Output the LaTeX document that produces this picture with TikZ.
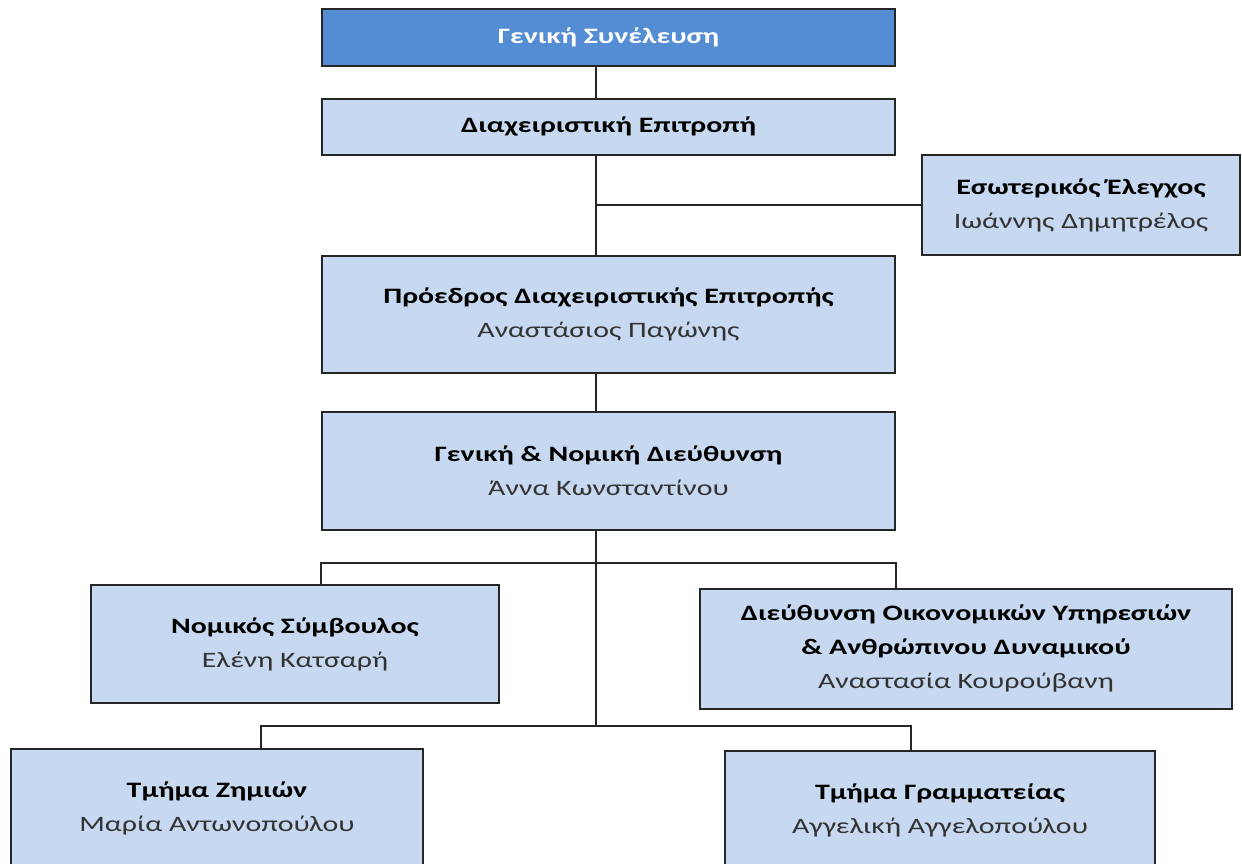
\documentclass[tikz,border=0pt]{standalone}
\usepackage{fontspec}
\setmainfont{Carlito}[FakeStretch=1.36]
\usetikzlibrary{positioning}
\definecolor{headbg}{RGB}{84,141,212}
\definecolor{unitbg}{RGB}{198,217,241}
\definecolor{framecol}{RGB}{38,38,38}
\definecolor{namecol}{RGB}{50,50,50}

\begin{document}
\begin{tikzpicture}[x=0.5pt, y=-0.5pt,
    box/.style={rectangle, draw=framecol, line width=1pt, fill=unitbg, align=center, inner sep=0pt, text=namecol, font=\fontsize{11}{17}\selectfont},
    headbox/.style={box, fill=headbg, text=white, font=\bfseries\fontsize{11}{17}\selectfont},
    link/.style={draw=framecol, line width=1pt}
]
\useasboundingbox (0,0) rectangle (1242,863);
\clip (0,0) rectangle (1242,863);

% Boxes
\node[headbox, minimum width=286.5pt, minimum height=28.5pt] (gs) at (608.5,37.5) {Γενική Συνέλευση};
\node[box, minimum width=286.5pt, minimum height=28pt] (de) at (608.5,126.5) {\textbf{\color{black}Διαχειριστική Επιτροπή}};
\node[box, minimum width=159pt, minimum height=50pt] (ee) at (1081,205) {\textbf{\color{black}Εσωτερικός Έλεγχος}\\Ιωάννης Δημητρέλος};
\node[box, minimum width=286.5pt, minimum height=58.5pt] (pde) at (608.5,314.5) {\textbf{\color{black}Πρόεδρος Διαχειριστικής Επιτροπής}\\Αναστάσιος Παγώνης};
\node[box, minimum width=286.5pt, minimum height=59pt] (gnd) at (608.5,471) {\textbf{\color{black}Γενική \& Νομική Διεύθυνση}\\Άννα Κωνσταντίνου};
\node[box, minimum width=204pt, minimum height=59pt] (ns) at (295,644) {\textbf{\color{black}Νομικός Σύμβουλος}\\Ελένη Κατσαρή};
\node[box, minimum width=266pt, minimum height=60pt] (doy) at (966,649) {\textbf{\color{black}Διεύθυνση Οικονομικών Υπηρεσιών}\\\textbf{\color{black}\& Ανθρώπινου Δυναμικού}\\Αναστασία Κουρούβανη};
\node[box, minimum width=206pt, minimum height=59pt] (tz) at (217,808) {\textbf{\color{black}Τμήμα Ζημιών}\\Μαρία Αντωνοπούλου};
\node[box, minimum width=215pt, minimum height=59pt] (tg) at (940,810) {\textbf{\color{black}Τμήμα Γραμματείας}\\Αγγελική Αγγελοπούλου};

% Connectors
\coordinate (trunk) at (596,0);
\coordinate (bar1) at (596,563);
\coordinate (bar2) at (596,726);
\coordinate (left2) at (261,0);
\coordinate (right2) at (911,0);
\draw[link] (gs.south -| trunk) -- (de.north -| trunk);
\draw[link] (de.south -| trunk) -- (pde.north -| trunk);
\draw[link] (trunk |- ee.west) -- (ee.west);
\draw[link] (pde.south -| trunk) -- (gnd.north -| trunk);
\draw[link] (gnd.south -| trunk) -- (bar2);
\draw[link] (ns.north -| gnd.west) |- (bar1) -| (doy.north -| gnd.east);
\draw[link] (tz.north -| left2) |- (bar2) -| (tg.north -| right2);

\end{tikzpicture}
\end{document}
